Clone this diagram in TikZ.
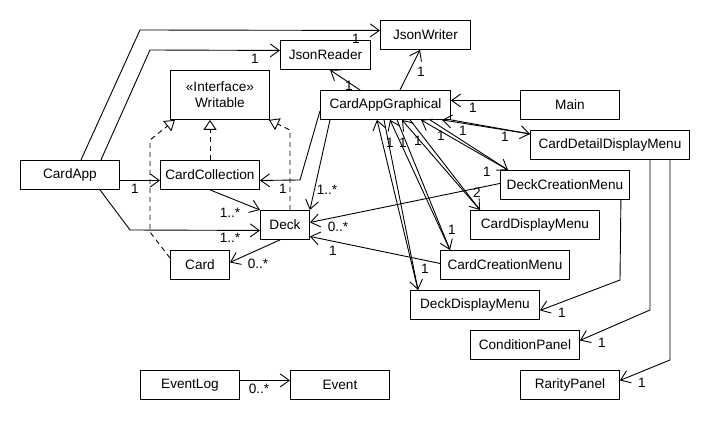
\documentclass[tikz,border=0pt]{standalone}
\usepackage{fontspec}
\setmainfont{Liberation Sans}
\usetikzlibrary{arrows.meta}

\tikzset{
  cls/.style={draw, anchor=north west, minimum height=29pt, inner sep=2pt,
    line width=0.9pt, font=\fontsize{13.6pt}{16pt}\selectfont},
  lbl/.style={inner sep=0pt, font=\fontsize{13.6pt}{16pt}\selectfont},
  assoc/.style={line width=0.9pt, -{Straight Barb[length=9pt,width=13pt]}},
  realize/.style={line width=0.9pt, dash pattern=on 5pt off 4pt,
    -{Triangle[open,length=10pt,width=13pt]}}
}

\begin{document}
\begin{tikzpicture}[x=1pt, y=-1pt]
  \useasboundingbox (0,0) rectangle (710,430);

  \node[cls, minimum width=90pt] (jsonwriter) at (380,20) {JsonWriter};
  \node[cls, minimum width=90pt] (jsonreader) at (280,40) {JsonReader};
  \node[cls, minimum width=99pt, minimum height=49pt, align=center] (writable) at (170,70) {«Interface»\\Writable};
  \node[cls, minimum width=130pt] (cag) at (320,90) {CardAppGraphical};
  \node[cls, minimum width=99pt] (main) at (520,90) {Main};
  \node[cls, minimum width=159pt] (detailmenu) at (530,130) {CardDetailDisplayMenu};
  \node[cls, minimum width=99pt] (cardapp) at (20,160) {CardApp};
  \node[cls, minimum width=99pt] (collection) at (160,160) {CardCollection};
  \node[cls, minimum width=129pt] (deckcreate) at (500,170) {DeckCreationMenu};
  \node[cls, minimum width=49pt] (deck) at (260,210) {Deck};
  \node[cls, minimum width=129pt] (carddisplay) at (470,210) {CardDisplayMenu};
  \node[cls, minimum width=59pt] (card) at (170,250) {Card};
  \node[cls, minimum width=129pt] (cardcreate) at (440,250) {CardCreationMenu};
  \node[cls, minimum width=129pt] (deckdisplay) at (410,290) {DeckDisplayMenu};
  \node[cls, minimum width=109pt] (condition) at (470,330) {ConditionPanel};
  \node[cls, minimum width=99pt] (eventlog) at (140,370) {EventLog};
  \node[cls, minimum width=99pt] (event) at (290,370) {Event};
  \node[cls, minimum width=99pt] (rarity) at (520,370) {RarityPanel};

  % CardApp
  \draw[assoc] ([xshift=11pt]cardapp.north) -- (140,30) -- ([yshift=4.5pt]jsonwriter.west);
  \draw[assoc] ([xshift=31pt]cardapp.north) -- (150,50) -- ([yshift=4.5pt]jsonreader.west);
  \draw[assoc] ([yshift=-5.5pt]cardapp.east) -- ([yshift=-5.5pt]collection.west);
  \draw[assoc] ([xshift=80pt]cardapp.south west) -- (130,230) -- ([yshift=-5.5pt]deck.west);
  \draw[assoc] ([xshift=50pt]collection.south west) -- (deck.north west);
  \draw[assoc] ([xshift=20pt]deck.south west) -- ([yshift=2.5pt]card.east);

  % Writable
  \draw[realize] ([xshift=50pt]collection.north west) -- ([xshift=40pt]writable.south west);
  \draw[realize] ([yshift=-8pt]card.north west) -- (150,232) -- (150,140) -- ([xshift=5pt]writable.south west);
  \draw[realize] ([xshift=30pt]deck.north west) -- (290,130) -- ([xshift=-1pt]writable.south east);

  % CardAppGraphical
  \draw[assoc] ([yshift=-6pt]cag.west) -- (300,180) -- ([yshift=-5.5pt]collection.east);
  \draw[assoc] ([xshift=10pt]cag.south west) -- (deck.north east);
  \draw[assoc] ([xshift=40pt]cag.north west) -- ([xshift=50pt]jsonreader.south west);
  \draw[assoc] ([xshift=80pt]cag.north west) -- ([xshift=40pt]jsonwriter.south west);
  \draw[assoc] ([yshift=4.5pt]main.west) -- ([yshift=4.5pt]cag.east);

  \draw[assoc] ([xshift=8pt]deckdisplay.north west) -- ([xshift=57pt]cag.south west);
  \draw[assoc] ([xshift=64pt]cag.south west) -- ([xshift=8pt]deckdisplay.north west);
  \draw[assoc] ([xshift=10pt]cardcreate.north west) -- ([xshift=70pt]cag.south west);
  \draw[assoc] ([xshift=77pt]cag.south west) -- ([xshift=10pt]cardcreate.north west);
  \draw[assoc] ([xshift=10pt]carddisplay.north west) -- ([xshift=82pt]cag.south west);
  \draw[assoc] ([xshift=90pt]cag.south west) -- ([xshift=10pt]carddisplay.north west);
  \draw[assoc] ([xshift=8pt]deckcreate.north west) -- ([xshift=101pt]cag.south west);
  \draw[assoc] ([xshift=110pt]cag.south west) -- ([xshift=8pt]deckcreate.north west);
  \draw[assoc] ([yshift=11pt]detailmenu.west) -- ([xshift=122pt]cag.south west);
  \draw[assoc] (cag.south east) -- ([yshift=11pt]detailmenu.west);

  % menus
  \draw[assoc] ([yshift=1.5pt]deckcreate.west) -- ([yshift=2.5pt]deck.east);
  \draw[assoc] ([yshift=1.5pt]cardcreate.west) -- ([yshift=-11.5pt]deck.east);
  \draw[assoc] ([xshift=-9pt]deckcreate.south east) -- (620,280) -- ([yshift=-5.5pt]deckdisplay.east);
  \draw[assoc] ([xshift=120pt]detailmenu.south west) -- (650,310) -- ([yshift=4.5pt]condition.east);
  \draw[assoc] ([xshift=140pt]detailmenu.south west) -- (670,360) -- ([yshift=4.5pt]rarity.east);
  \draw[assoc] ([yshift=4.5pt]eventlog.east) -- ([yshift=4.5pt]event.west);

  % multiplicities
  \node[lbl] (m1) at (356,39) {1};
  \node[lbl] (m2) at (255,59) {1};
  \node[lbl] (m3) at (349,86) {1};
  \node[lbl] (m4) at (421,72) {1};
  \node[lbl] (m5) at (473,108) {1};
  \node[lbl] (m6) at (390,143) {1};
  \node[lbl] (m7) at (403,143) {1};
  \node[lbl] (m8) at (418,141) {1};
  \node[lbl] (m9) at (441,136) {1};
  \node[lbl] (m10) at (463,131) {1};
  \node[lbl] (m11) at (505,137) {1};
  \node[lbl] (m12) at (487,172) {1};
  \node[lbl] (m13) at (477,193) {2};
  \node[lbl] (m14) at (452,230) {1};
  \node[lbl] (m15) at (425,269) {1};
  \node[lbl] (m16) at (283,189) {1};
  \node[lbl] (m17) at (327,190) {1..*};
  \node[lbl] (m18) at (135,189) {1};
  \node[lbl] (m19) at (230,213) {1..*};
  \node[lbl] (m20) at (230,238) {1..*};
  \node[lbl] (m21) at (258,264) {0..*};
  \node[lbl] (m22) at (338,227) {0..*};
  \node[lbl] (m23) at (333,251) {1};
  \node[lbl] (m24) at (562,313) {1};
  \node[lbl] (m25) at (602,343) {1};
  \node[lbl] (m26) at (642,383) {1};
  \node[lbl] (m27) at (259,389) {0..*};
\end{tikzpicture}
\end{document}
